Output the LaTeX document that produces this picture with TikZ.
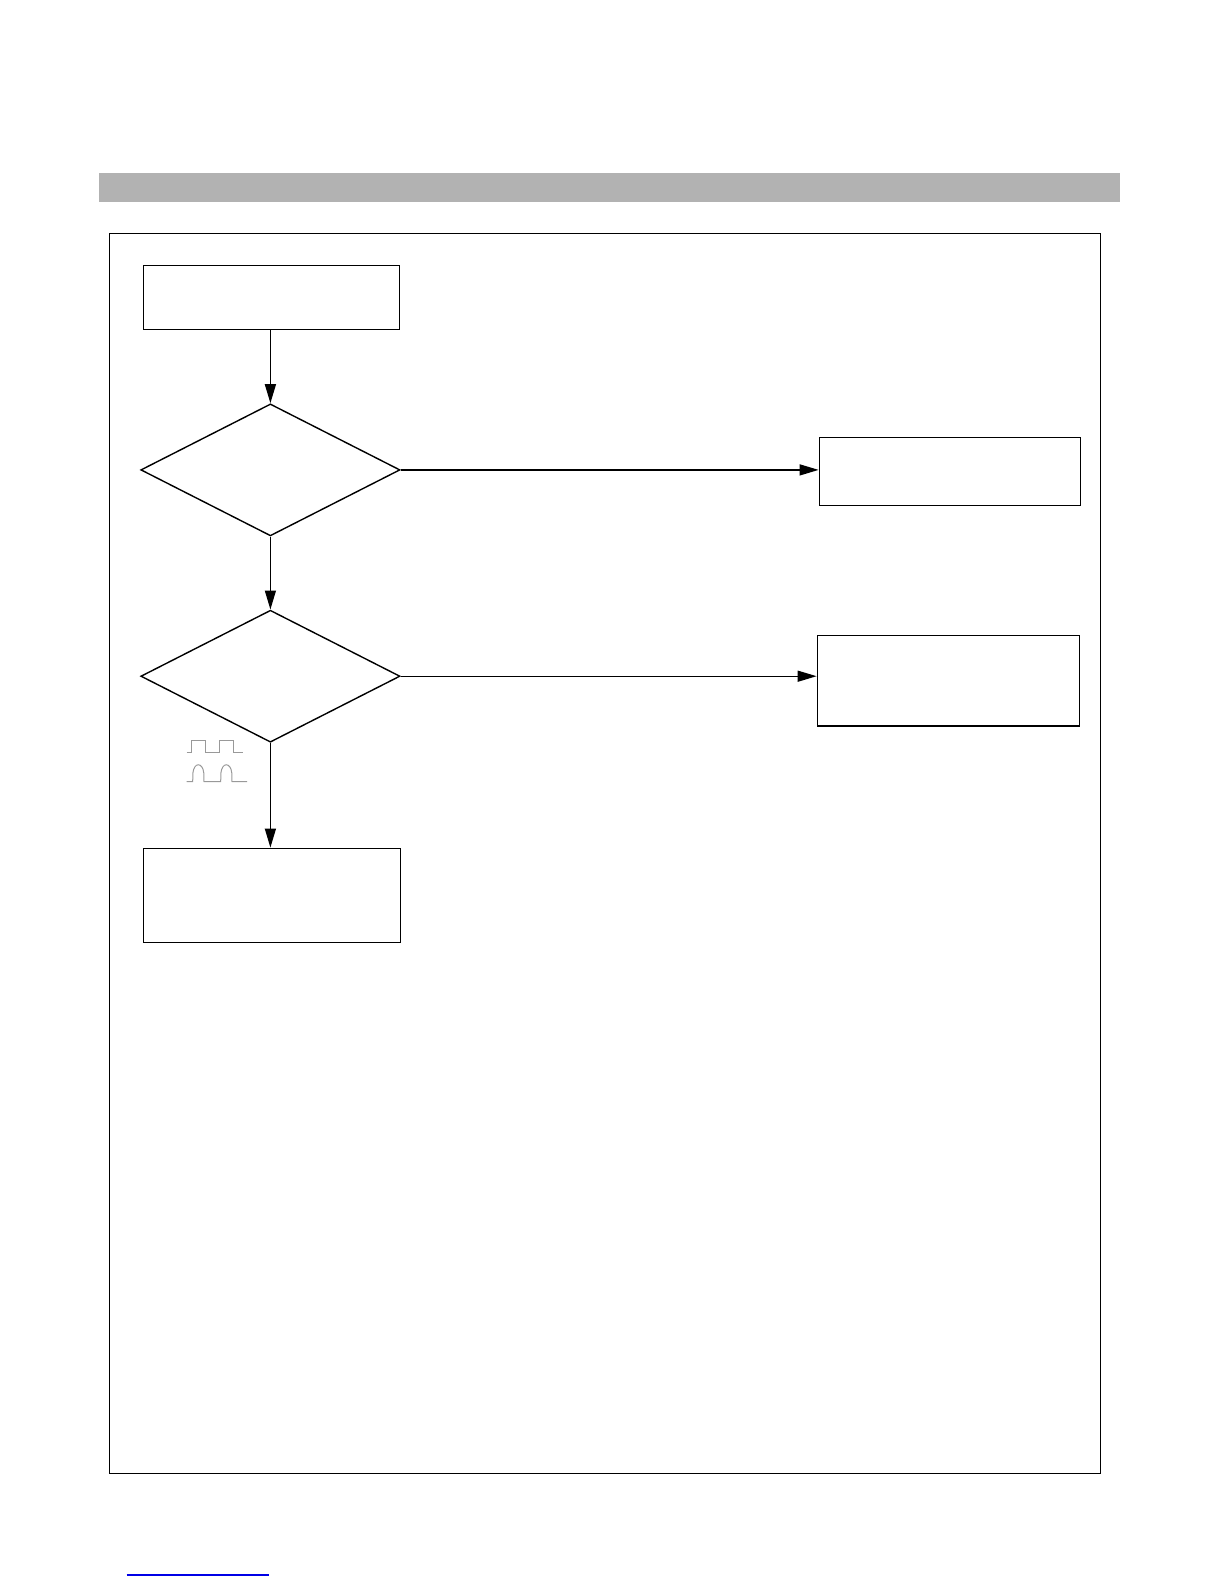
\documentclass[tikz,border=0pt]{standalone}
\usetikzlibrary{arrows.meta,shapes.geometric}
\begin{document}
\begin{tikzpicture}[x=0.5pt,y=-0.5pt,
  boxnode/.style={draw,line width=0.7pt,rectangle,inner sep=0pt},
  decnode/.style={draw,line width=0.7pt,diamond,inner sep=0pt,minimum width=129.6pt,minimum height=66pt},
  flow/.style={line width=0.7pt,-{Triangle[length=9.5pt,width=5.5pt]}},
  wave/.style={draw=black!40,line width=0.5pt}]
\useasboundingbox (0,0) rectangle (1225,1585);
% header bar
\fill[black!30] (99,173.3) rectangle (1120,201.7);
% frame
\draw[line width=0.8pt] (109.3,233.3) rectangle (1100.3,1473.3);
% nodes
\node[boxnode,minimum width=128.2pt,minimum height=32pt] (b1) at (271.5,297.3) {};
\node[decnode] (d1) at (270.4,469.9) {};
\node[boxnode,minimum width=130.7pt,minimum height=34pt] (b2) at (950,471.3) {};
\node[decnode] (d2) at (270.4,676.2) {};
\node[boxnode,minimum width=131pt,minimum height=45.4pt] (b3) at (948.3,680.7) {};
\node[boxnode,minimum width=128.7pt,minimum height=47pt] (b4) at (272,895.3) {};
% connectors
\draw[flow] (b1.south -| d1.north) -- (d1.north);
\draw[flow] (d1.east) -- (d1.east -| b2.west);
\draw[flow] (d1.south) -- (d2.north);
\draw[flow] (d2.east) -- (d2.east -| b3.west);
\draw[flow] (d2.south) -- (d2.south |- b4.north);
% waveforms
\draw[wave] (186.7,752.3) -- (191.7,752.3) -- (191.7,740) -- (205,740) -- (205,752.3) -- (219,752.3) -- (219,740) -- (233,740) -- (233,752.3) -- (242.7,752.3);
\draw[wave] (186.7,781.7) -- (192.7,781.7) -- (192.9,773) .. controls (194,762) and (202.6,762) .. (203.8,773) -- (204,781.7) -- (220.7,781.7) -- (220.9,773) .. controls (222,762) and (230.6,762) .. (231.8,773) -- (232,781.7) -- (247,781.7);
% link underline
\draw[line width=0.65pt,color={rgb,255:red,0;green,0;blue,230}] (126.7,1575) -- (269,1575);
\end{tikzpicture}
\end{document}
